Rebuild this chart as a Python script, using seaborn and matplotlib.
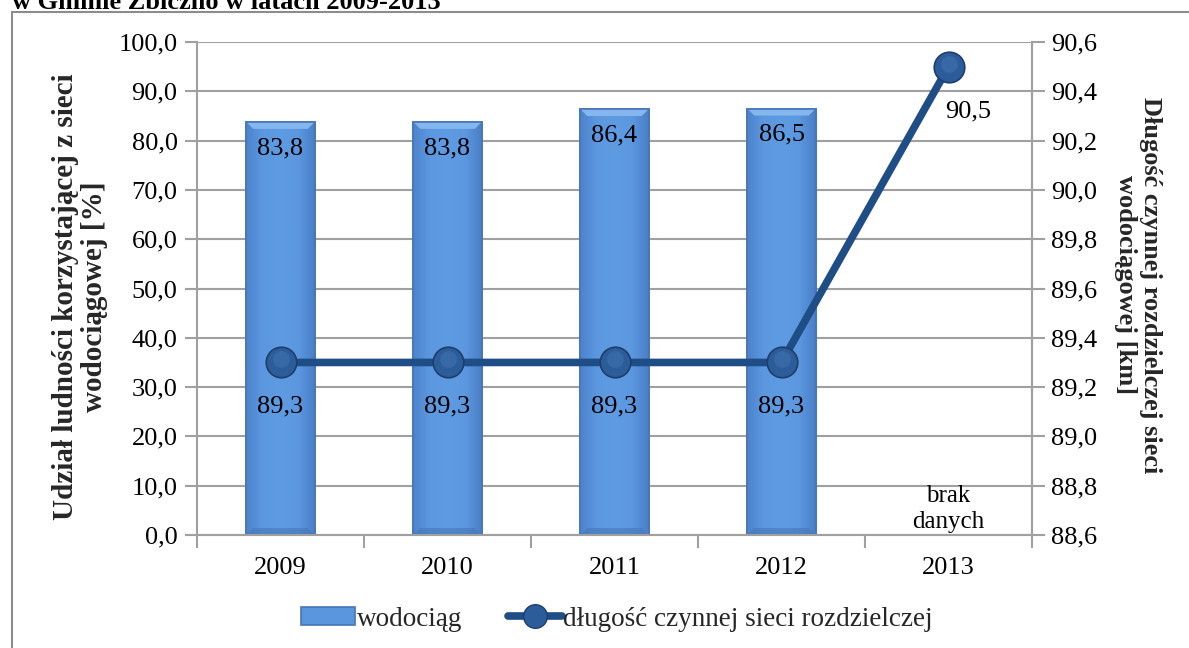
import numpy as np
import pandas as pd
import matplotlib
matplotlib.use("Agg")
import matplotlib.pyplot as plt
from matplotlib.patches import Rectangle, Patch, Polygon
from matplotlib.lines import Line2D
from matplotlib.colors import LinearSegmentedColormap
from matplotlib.ticker import FuncFormatter, FixedLocator
import matplotlib.transforms as mtransforms
import seaborn as sns

# --- data ---
years = ["2009", "2010", "2011", "2012", "2013"]
wodociag = [83.8, 83.8, 86.4, 86.5, np.nan]          # % of population using the water network
dlugosc = [89.3, 89.3, 89.3, 89.3, 90.5]             # length of active distribution network [km]
left_ticks = [0, 10, 20, 30, 40, 50, 60, 70, 80, 90, 100]
right_ticks = [88.6, 88.8, 89.0, 89.2, 89.4, 89.6, 89.8, 90.0, 90.2, 90.4, 90.6]

sns.set_theme(style="white")
plt.rcParams["font.family"] = ["Liberation Serif", "DejaVu Serif"]

W, H = 1189, 648
fig = plt.figure(figsize=(W / 100, H / 100), dpi=100)
fig.patch.set_facecolor("white")

# chart frame (cut by the page edge on the right and bottom)
fig.add_artist(Rectangle((12 / W, -0.1), 1.2, 1 - 12 / H + 0.1, transform=fig.transFigure,
                         fill=False, edgecolor="#8C8C8C", linewidth=1.5))

# caption line above the chart, running off the top of the page
fig.text(12 / W, 1 - 9 / H, "w Gminie Zbiczno w latach 2009-2013", ha="left", va="baseline",
         fontsize=19, fontweight="bold", color="black")

ax = fig.add_axes([197 / W, 1 - 535 / H, (1032 - 197) / W, (535 - 42) / H])
df = pd.DataFrame({"rok": years, "wodociag": wodociag})
bar_face = "#5A96DE"
bar_edge = "#4676B8"
sns.barplot(data=df, x="rok", y="wodociag", ax=ax, color=bar_face, width=0.41,
            saturation=1, edgecolor=bar_edge, linewidth=1.2, zorder=2)

grid_c = "#A0A0A0"
ax.set_ylim(0, 100)
ax.set_xlim(-0.5, len(years) - 0.5)

# bevelled look for each bar: horizontal shading plus light top / dark bottom facets
shade = LinearSegmentedColormap.from_list("shade", ["#4C83CC", "#5C98E0", "#5E9BE3", "#5C98E0", "#4A7FC6"])
px_y = 100 / (535 - 42)                      # data units per pixel on the left axis
px_x = len(years) / (1032 - 197)             # data units per pixel along x
for bar in list(ax.patches):
    h = bar.get_height()
    if not np.isfinite(h) or h <= 0:
        continue
    x0, w = bar.get_x(), bar.get_width()
    grad = np.linspace(0, 1, 256).reshape(1, -1)
    im = ax.imshow(grad, cmap=shade, aspect="auto", extent=(x0, x0 + w, 0, h), zorder=2.1,
                   interpolation="bicubic")
    im.set_clip_path(bar)
    b = 7
    top = Polygon([(x0, h), (x0 + w, h), (x0 + w - b * px_x, h - b * px_y), (x0 + b * px_x, h - b * px_y)],
                  closed=True, facecolor="#86B6EE", edgecolor="none", zorder=2.2)
    bot = Polygon([(x0, 0), (x0 + w, 0), (x0 + w - b * px_x, b * px_y), (x0 + b * px_x, b * px_y)],
                  closed=True, facecolor="#4676B8", edgecolor="none", zorder=2.2, alpha=0.6)
    ax.add_patch(top)
    ax.add_patch(bot)
    ax.add_patch(Rectangle((x0, 0), w, h, fill=False, edgecolor=bar_edge, linewidth=1.2, zorder=2.3))
ax.set_xlim(-0.5, len(years) - 0.5)
ax.set_ylim(0, 100)

ax.yaxis.set_major_locator(FixedLocator(left_ticks))
ax.yaxis.set_major_formatter(FuncFormatter(lambda v, p: f"{v:.1f}".replace(".", ",")))
ax.grid(axis="y", color=grid_c, linewidth=1.5, zorder=0)
ax.set_axisbelow(True)
ax.set_xlabel("")
ax.set_ylabel("Udział ludności korzystającej z sieci\nwodociągowej [%]", fontsize=21,
              fontweight="bold", linespacing=1.1, va="center")
ax.yaxis.set_label_coords(-0.140, 0.483)
ax.spines["top"].set_visible(False)
for s in ["left", "right", "bottom"]:
    ax.spines[s].set_color(grid_c)
    ax.spines[s].set_linewidth(1.5)
ax.tick_params(axis="y", which="major", left=True, length=9, width=1.5, color=grid_c,
               labelsize=19, pad=5, labelcolor="black")
# category labels at bar centres, tick marks at category boundaries
ax.set_xticks(range(len(years)))
ax.set_xticklabels(years)
ax.tick_params(axis="x", which="major", bottom=False, labelsize=19, pad=10, labelcolor="black")
ax.set_xticks(np.arange(-0.5, len(years)), minor=True)
ax.tick_params(axis="x", which="minor", bottom=True, length=9, width=1.5, color=grid_c)

# bar value labels
for i, v in enumerate(wodociag):
    if not np.isnan(v):
        ax.annotate(f"{v:.1f}".replace(".", ","), (i, v), xytext=(0, -11), textcoords="offset points",
                    ha="center", va="top", fontsize=19, color="black", zorder=5)

ax.text(len(years) - 1, 5.3, "brak\ndanych", ha="center", va="center", fontsize=18,
        color="black", linespacing=1.2, zorder=5)

# secondary axis: network length
ax2 = ax.twinx()
line_c = "#1F4E86"
sns.lineplot(x=list(range(len(years))), y=dlugosc, ax=ax2, color=line_c, linewidth=5.5,
             marker="o", markersize=22, markerfacecolor="#2C5C9A", markeredgecolor="#1E3F6B",
             markeredgewidth=1.2, zorder=4)
# soft highlight on the markers
ax2.plot(list(range(len(years))), dlugosc, linestyle="none", marker="o", markersize=12,
         markerfacecolor="#4C7FBD", markeredgecolor="none", alpha=0.4, zorder=5,
         transform=ax2.transData + mtransforms.ScaledTranslation(0, 3 / 100, fig.dpi_scale_trans))
ax2.set_ylim(88.6, 90.6)
ax2.yaxis.set_major_locator(FixedLocator(right_ticks))
ax2.yaxis.set_major_formatter(FuncFormatter(lambda v, p: f"{v:.1f}".replace(".", ",")))
ax2.grid(False)
for s in ["top", "left", "bottom"]:
    ax2.spines[s].set_visible(False)
ax2.spines["right"].set_color(grid_c)
ax2.spines["right"].set_linewidth(1.5)
ax2.tick_params(axis="y", right=True, length=9, width=1.5, color=grid_c, labelsize=19, pad=5,
                labelcolor="black")
ax2.set_ylabel("Długość czynnej rozdzielczej sieci\nwodociągowej [km]", fontsize=19,
               fontweight="bold", rotation=-90, linespacing=1.14, va="center")
ax2.yaxis.set_label_coords(1.127, 0.507)

for i, v in enumerate(dlugosc):
    dx = 14 if i == len(years) - 1 else 0
    ax2.annotate(f"{v:.1f}".replace(".", ","), (i, v), xytext=(dx, -24), textcoords="offset points",
                 ha="center", va="top", fontsize=19, color="black", zorder=6)

# legend
handles = [Patch(facecolor=bar_face, edgecolor=bar_edge, linewidth=1.2),
           Line2D([0], [0], color=line_c, linewidth=5.5, marker="o", markersize=17,
                  markerfacecolor="#2C5C9A", markeredgecolor="#1E3F6B")]
fig.legend(handles, ["wodociąg", "długość czynnej sieci rozdzielczej"], loc="center",
           bbox_to_anchor=(617 / W, 1 - 619 / H), ncol=2, frameon=False, fontsize=19.5,
           handlelength=2.0, handleheight=0.6, handletextpad=0.05, columnspacing=1.7)

fig.savefig("out.png", dpi=100, facecolor="white")
